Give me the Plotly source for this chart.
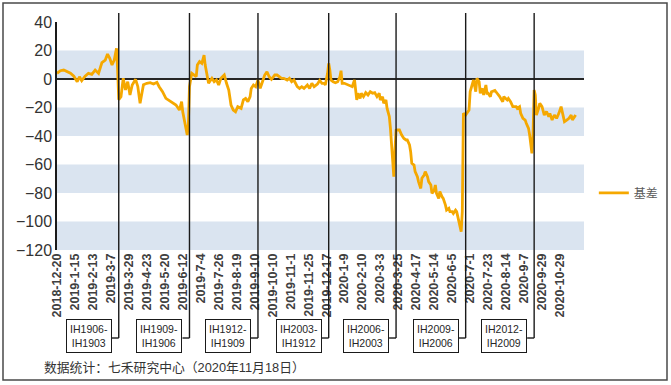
import plotly.graph_objects as go

# ---- data ----
tick_labels = ["2018-12-20", "2019-1-15", "2019-2-13", "2019-3-7", "2019-3-29", "2019-4-23",
               "2019-5-20", "2019-6-12", "2019-7-4", "2019-7-26", "2019-8-19", "2019-9-10",
               "2019-10-10", "2019-11-1", "2019-11-25", "2019-12-17", "2020-1-9", "2020-2-10",
               "2020-3-3", "2020-3-25", "2020-4-17", "2020-5-14", "2020-6-5", "2020-7-1",
               "2020-7-23", "2020-8-14", "2020-9-7", "2020-9-29", "2020-10-29"]
tick_step = 16  # trading days between labels

day_index = [0, 3, 6, 9, 12, 15, 18, 20, 22, 25, 28, 31, 34, 37, 40, 43, 45, 47, 49, 51, 53, 54,
             55, 57, 59, 61, 63, 65, 67, 70, 72, 74, 76,
             77, 80, 83, 86, 89, 91, 94, 97, 100, 103, 106, 109, 111, 112, 114, 116, 117, 118,
             120, 122, 124, 125, 127, 129, 131, 132, 134, 135, 138, 140, 142, 144, 146, 149,
             151, 153, 155, 157,
             159, 161, 164, 166, 168, 170, 172, 173, 175, 177, 179, 181, 183, 185, 187, 189,
             191, 194, 196, 198, 200, 202, 205, 207, 209, 211, 214, 216, 218, 220, 223, 225,
             227, 229, 232,
             234, 236, 238, 239, 241, 242, 243, 244, 246, 248, 250, 252, 253, 254, 256, 258,
             261, 263, 264, 265, 267, 268, 270, 271, 273, 275, 277, 279, 281, 283, 285, 287,
             288, 290, 291, 293, 294, 296, 297, 298, 299, 300, 301, 302, 303, 305, 307, 309,
             311,
             312, 314, 315, 316, 318, 319, 321, 322, 324, 325, 327, 328, 330, 331, 333, 334,
             336, 337, 338, 340, 341, 343, 344, 346, 347, 349, 350, 352, 353, 355, 356, 358,
             359, 360, 361, 362, 364, 365, 367, 368, 370, 371, 373, 374, 376, 377, 379, 380,
             382, 383, 384, 386, 387,
             390, 392, 394, 397, 398, 401, 402, 404, 405, 406, 409, 410, 412, 413, 415, 417,
             418, 420, 421, 422, 423, 424, 425, 426, 427, 429, 430, 432, 434, 436, 438, 439,
             441, 443, 445, 447, 449, 450, 452, 454, 456, 458, 459, 461, 462]

basis = [4, 5.8, 6.3, 5.1, 4, 2, -1.9, 1.6, -1.2, 2, 4, 3.3, 6.3, 4, 11.5, 13.3, 17.5, 14.5, 9.8,
         13.3, 21.5, 6.3,
         -14.5, -12.4, 0.5, -7.7, -1.9, -11.2, -4.2, -0.2, -5.4, -17, -7.7,
         -4, -3, -2.6, -3.5, -2.3, -5.4, -8.9, -13.6, -15.2, -17, -18.3, -21.8, -15.9, -23,
         -31, -39.3, -32, -5.4,
         4, 2.8, 1.6, 9.8, 12.2, 11, 16.8, 9.8, 0.5, -3, 0.5, -1.9, -0.7, -4.2, 0.5, 2.8,
         -3, -7.7, -18.3, -21.8,
         -23, -19.4, -20.6, -14.7, -13.6, -15.9, -12.4, -6.6, -4.2, -5.4, -0.7, -6.6, -1.9,
         2.8, 5.1, 1.6,
         -0.2, 2.8, 2.8, 1.6, 0.5, 0.5, -0.7, 0.5, -1.9, -0.7, -5.4, -6.6, -5.4, -6.6, -4.2,
         -6.6, -3, -5.4, -3.5,
         -1.0, -3, -3, -4.2, 4, 11, 6.3, -0.7, -1.9, -2.6, -1.9, 1.6, 5.8, -3, -3, -3.7,
         -4.2, -5.4, -3, -0.7, -14.7, -10, -13.6, -10, -12.4, -9.6, -11.2, -8.9, -10, -9.6,
         -12.4, -10,
         -14.7, -12.4, -17, -14.7, -20.6, -26.4, -34.6, -47.5, -59, -68.6, -50, -36, -35.8,
         -35.8, -39.3, -41.7,
         -42.8,
         -42.8, -46.3, -51, -59.2, -60.4, -65, -68.6, -72, -76.8, -69.7, -67.4, -65, -68.6,
         -72, -74.4, -80.3,
         -78, -74.4, -80.3, -83.8, -79, -82.6, -83.8, -88.5, -92, -90.8, -93.1, -93.1, -94.3,
         -92, -93.1, -100.1,
         -104.8, -107.2, -93.1, -24.1, -25.3, -24.1, -21.8, -8.9, -3, -0.7, -8.9, 0.5, -1.9,
         -10, -6.6, -11.2,
         -4.2, -10, -10, -12.4, -8.9,
         -8, -10, -12, -15.9, -12.4, -14.7, -13.6, -15.9, -18.3, -19.4, -19.4, -20.6, -19.4,
         -24.1, -27.6, -28.8,
         -31.1, -34.6, -39.3, -46.3, -52.2, -39, -7.7, -11.2, -25.3, -20.6, -17, -19.4,
         -25.3, -22.9, -26.4, -24.1,
         -28.8, -25.3, -27.6, -24.1, -19.4, -22.9, -29.9, -28.8, -27.6, -25.3, -28.8, -26.4,
         -25.3]

roll_index = [55, 118, 179, 242, 302, 364, 425]
roll_labels = ["IH1906-<br>IH1903", "IH1909-<br>IH1906", "IH1912-<br>IH1909",
               "IH2003-<br>IH1912", "IH2006-<br>IH2003", "IH2009-<br>IH2006",
               "IH2012-<br>IH2009"]

band_ranges = [(0, 20), (-40, -20), (-80, -60), (-120, -100)]
y_ticks = [40, 20, 0, -20, -40, -60, -80, -100, -120]

source_text = "数据统计：七禾研究中心（2020年11月18日）"
series_name = "基差"

# ---- figure ----
fig = go.Figure()
fig.add_trace(go.Scatter(x=day_index, y=basis, mode="lines", name=series_name,
                         line=dict(color="#F5A800", width=2.8)))

shapes = []
for lo, hi in band_ranges:
    shapes.append(dict(type="rect", xref="paper", yref="y", x0=0, x1=1, y0=lo, y1=hi,
                       fillcolor="#DAE4F0", line=dict(width=0), layer="below"))

line_top = 1.04
conn_y = -0.386
for xi, lab in zip(roll_index, roll_labels):
    shapes.append(dict(type="line", xref="x", yref="paper", x0=xi, x1=xi,
                       y0=conn_y, y1=line_top, line=dict(color="#1a1a1a", width=1.4),
                       layer="above"))
    shapes.append(dict(type="line", xref="x", yref="paper", xsizemode="pixel", xanchor=xi,
                       x0=-7, x1=0, y0=conn_y, y1=conn_y,
                       line=dict(color="#1a1a1a", width=1.4)))

# outer frame
shapes.append(dict(type="rect", xref="paper", yref="paper", xsizemode="pixel",
                   ysizemode="pixel", xanchor=0, yanchor=0, x0=-54, x1=610, y0=-130, y1=247,
                   line=dict(color="#4a4a4a", width=1.5)))

annotations = []
for xi, lab in zip(roll_index, roll_labels):
    annotations.append(dict(x=xi, y=-0.375, xref="x", yref="paper", text=lab,
                            showarrow=False, xanchor="right", yanchor="middle", xshift=-7,
                            font=dict(family="Liberation Sans, Arial", size=10.5,
                                      color="#262626"),
                            bordercolor="#1a1a1a", borderwidth=1, borderpad=2,
                            bgcolor="white", width=40, height=28, align="center"))
annotations.append(dict(x=-0.029, y=-0.517, xref="paper", yref="paper", text=source_text,
                        showarrow=False, xanchor="left", yanchor="middle",
                        font=dict(family="Liberation Sans, Noto Sans CJK SC", size=12.8,
                                  color="#333333")))

fig.update_layout(
    width=671, height=385,
    margin=dict(l=57, r=87, t=22, b=135, autoexpand=False),
    paper_bgcolor="white", plot_bgcolor="white",
    shapes=shapes, annotations=annotations,
    showlegend=True,
    legend=dict(xref="container", yref="container", x=0.885, xanchor="left",
                y=0.499, yanchor="middle",
                font=dict(family="Noto Sans CJK SC", size=12, color="#595959"),
                bgcolor="rgba(0,0,0,0)", itemwidth=30),
    xaxis=dict(range=[0, 469.4], tickmode="array",
               tickvals=[i * tick_step for i in range(len(tick_labels))],
               ticktext=tick_labels, tickangle=-90, showgrid=False, zeroline=False,
               showline=False, ticks="", automargin=False,
               tickfont=dict(family="Liberation Sans, Arial", size=12.5, color="#404040",
                             weight="bold")),
    yaxis=dict(range=[-120, 40], tickmode="array", tickvals=y_ticks,
               showgrid=False, zeroline=True, zerolinecolor="#262626", zerolinewidth=1.5,
               showline=True, linecolor="#1a1a1a", linewidth=1.5, ticks="", automargin=False,
               tickfont=dict(family="Liberation Sans, Arial", size=16, color="#333333")),
)

fig.write_html("out.html", config={"displayModeBar": False},
               post_script="document.body.style.margin='0';document.body.style.overflow='hidden';")
